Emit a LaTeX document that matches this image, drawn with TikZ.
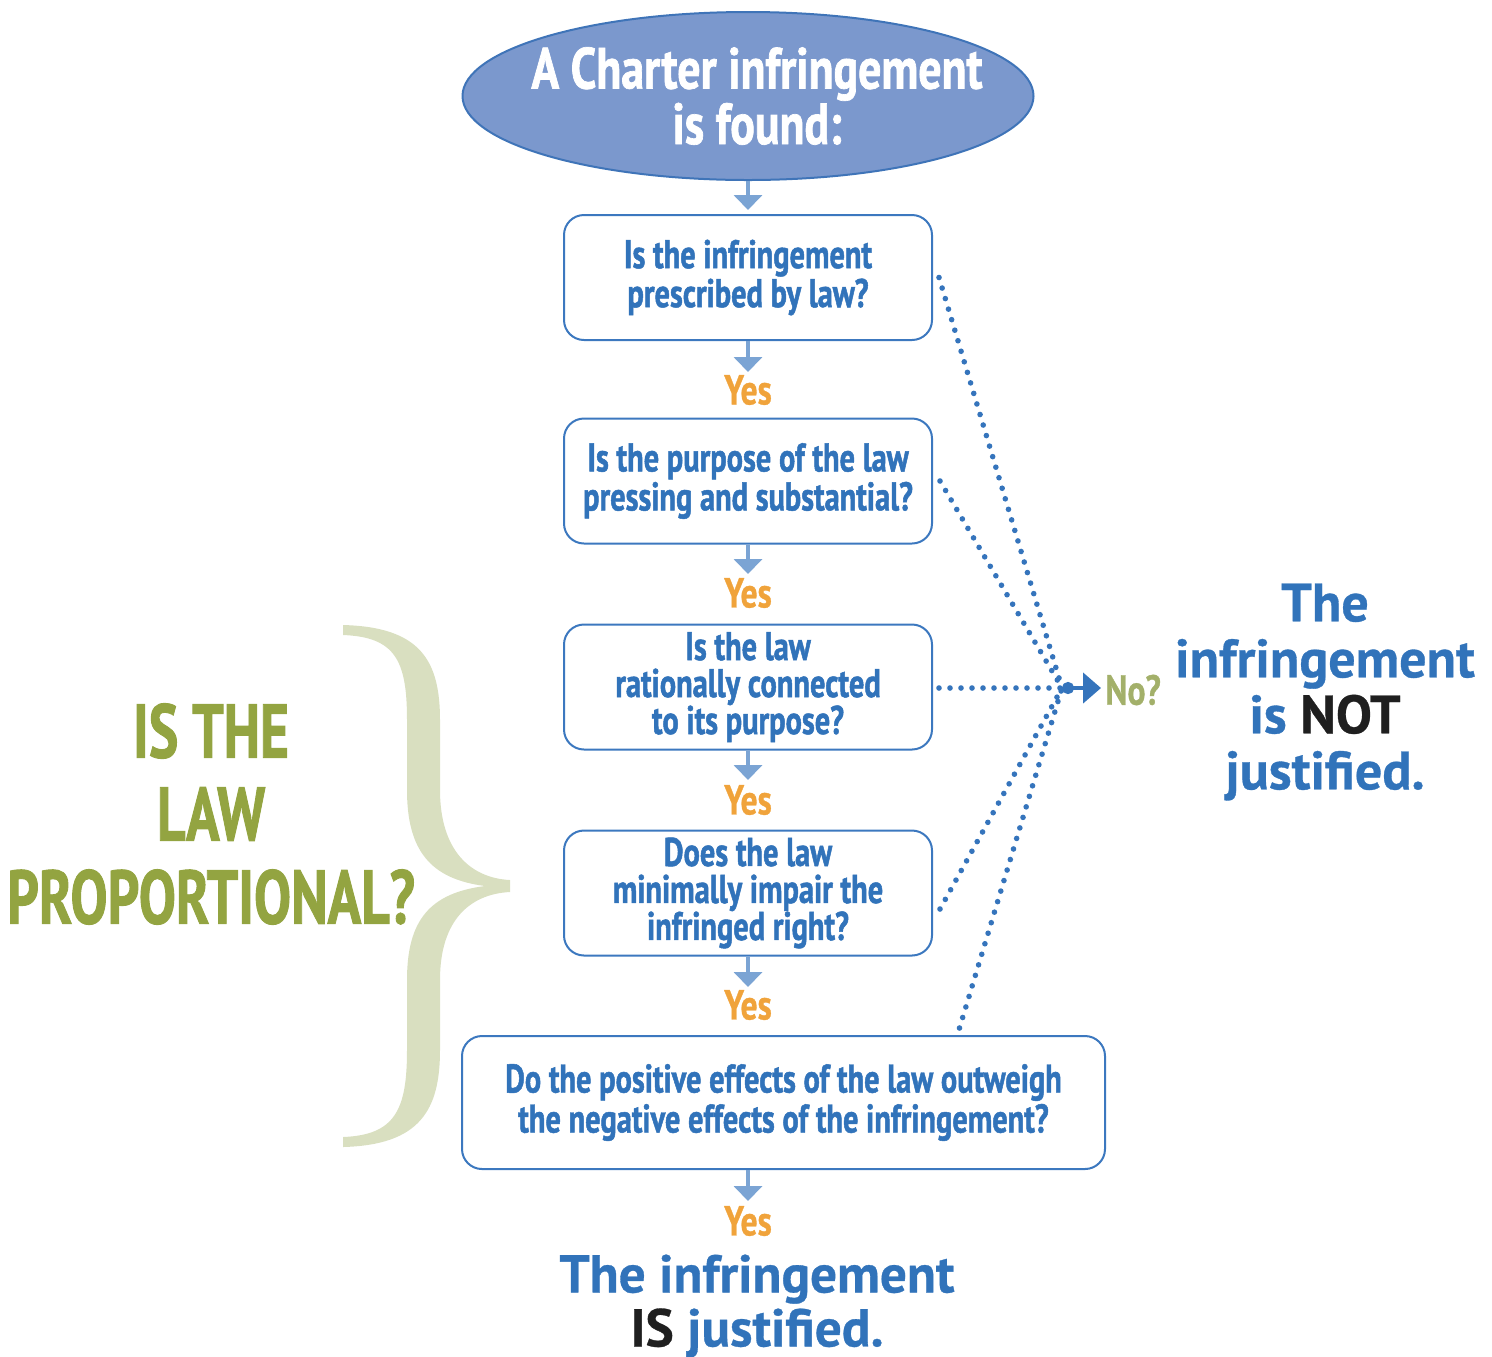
\documentclass[tikz,border=0pt]{standalone}
\usepackage{fontspec}
\setmainfont{PT Sans}
\newfontfamily\condf{PT Sans}[FakeStretch=0.76, FakeBold=1.2]
\newfontfamily\leftf{PT Sans}[FakeStretch=0.73, FakeBold=1.2]
\newfontfamily\ellf{PT Sans}[FakeStretch=0.79, FakeBold=1.2]
\newfontfamily\yesf{PT Sans}[FakeStretch=0.8, FakeBold=0.8]
\newfontfamily\widef{PT Sans}[FakeStretch=1.0, FakeBold=0.6]
\usetikzlibrary{shapes.geometric,arrows.meta,calc}
\definecolor{txtblue}{HTML}{3173BA}
\definecolor{boxblue}{HTML}{3C78BF}
\definecolor{arrblue}{HTML}{7BA4D4}
\definecolor{ellfill}{HTML}{7B98CD}
\definecolor{ellborder}{HTML}{3F74B8}
\definecolor{olive}{HTML}{93A441}
\definecolor{olivelt}{HTML}{A3B06A}
\definecolor{bracec}{HTML}{D9DFC0}
\definecolor{yescol}{HTML}{F0A33B}
\definecolor{dotblue}{HTML}{3574BC}
\tikzset{
  qbox/.style={draw=boxblue, line width=1pt, rounded corners=10pt, fill=white,
    minimum width=184pt, minimum height=62.5pt, inner sep=0pt, align=center,
    text=txtblue, font=\condf\bfseries\fontsize{20}{19.5}\selectfont},
  yeslbl/.style={text=yescol, inner sep=0pt, font=\yesf\bfseries\fontsize{21}{21}\selectfont},
  downarr/.style={draw=arrblue, line width=2pt, -{Triangle[width=14pt,length=7.5pt]}},
  dotline/.style={draw=dotblue, line width=2.8pt, line cap=round, dash pattern=on 0pt off 5.5pt},
}
\begin{document}
\begin{tikzpicture}[x=0.5pt,y=-0.5pt]
\useasboundingbox (0,0) rectangle (1492,1356);
% brace
\fill[bracec] (343,625) .. controls (420,627) and (440,660) .. (440,720) -- (440,790)
  .. controls (440,850) and (470,878) .. (510,880) -- (510,892)
  .. controls (470,894) and (440,920) .. (440,980) -- (440,1050)
  .. controls (440,1110) and (420,1145) .. (343,1147) -- (343,1137)
  .. controls (395,1135) and (407,1110) .. (407,1050) -- (407,980)
  .. controls (407,920) and (430,893) .. (485,886)
  .. controls (430,879) and (407,850) .. (407,790) -- (407,720)
  .. controls (407,660) and (395,637) .. (343,635) -- cycle;
% ellipse
\node[ellipse, draw=ellborder, fill=ellfill, line width=1pt, minimum width=285.5pt,
  minimum height=84pt, inner xsep=-40pt, inner ysep=-12pt, align=center, text=white,
  font=\ellf\bfseries\fontsize{29}{24}\selectfont] (ell) at (748,96)
  {\hspace*{9pt}A Charter infringement\\\hspace*{9pt}is found:};
% boxes
\node[qbox] (b1) at (748,277.5) {Is the infringement\\prescribed by law?};
\node[qbox] (b2) at (748,481) {Is the purpose of the law\\pressing and substantial?};
\node[qbox, font=\condf\bfseries\fontsize{20}{18.5}\selectfont] (b3) at (748,687) {Is the law\\rationally connected\\to its purpose?};
\node[qbox, font=\condf\bfseries\fontsize{20}{18.5}\selectfont] (b4) at (748,893) {Does the law\\minimally impair the\\infringed right?};
\node[qbox, minimum width=321.5pt, minimum height=66.5pt, font=\condf\bfseries\fontsize{20}{20}\selectfont] (b5) at (783.5,1102.5) {Do the positive effects of the law outweigh\\the negative effects of the infringement?};
% yes labels
\node[yeslbl] (y1) at (748,390) {Yes};
\node[yeslbl] (y2) at (748,593) {Yes};
\node[yeslbl] (y3) at (748,800) {Yes};
\node[yeslbl] (y4) at (748,1005) {Yes};
\node[yeslbl] (y5) at (748,1221) {Yes};
% arrows
\coordinate (t0) at (748,210);
\coordinate (t1) at (748,372);
\coordinate (t2) at (748,574);
\coordinate (t3) at (748,780);
\coordinate (t4) at (748,987);
\coordinate (t5) at (748,1201);
\draw[downarr] (ell.south) -- (t0);
\draw[downarr] (b1.south) -- (t1);
\draw[downarr] (b2.south) -- (t2);
\draw[downarr] (b3.south) -- (t3);
\draw[downarr] (b4.south) -- (t4);
\draw[downarr] (t5 |- b5.south) -- (t5);
% dotted lines
\coordinate (cv) at (1062,688);
\draw[dotline] ($(b1.east)+(6,0)$) -- (cv);
\draw[dotline] ($(b2.east)+(7,0)$) -- (cv);
\draw[dotline] ($(b3.east)+(6,1)$) -- (cv);
\draw[dotline] ($(b4.east)+(7,16)$) -- (cv);
\draw[dotline] ($(b5.north)+(176,-7)$) -- (cv);
\coordinate (na) at (1101,688);
\draw[draw=dotblue, line width=2.2pt, {Circle[length=6pt]}-{Triangle[width=15pt,length=9pt]}] (cv) -- (na);
\node[anchor=west, inner sep=0pt, text=olivelt, font=\yesf\bfseries\fontsize{21}{21}\selectfont] (no) at (1105,690) {No?};
% right text
\node[align=center, inner sep=0pt, text=txtblue, font=\widef\bfseries\fontsize{27}{28}\selectfont] (rt) at (1325,692)
  {The\\infringement\\is \textcolor{black!88}{NOT}\\justified.};
% left text
\node[align=center, inner sep=0pt, text=olive, font=\leftf\bfseries\fontsize{38}{41.5}\selectfont] (lt) at (211,814)
  {IS THE\\LAW\\PROPORTIONAL?};
% bottom text
\node[align=center, inner sep=0pt, text=txtblue, font=\widef\bfseries\fontsize{26.6}{27}\selectfont] (bt) at (757,1306)
  {The infringement\\\textcolor{black!88}{IS} justified.};
\end{tikzpicture}
\end{document}
